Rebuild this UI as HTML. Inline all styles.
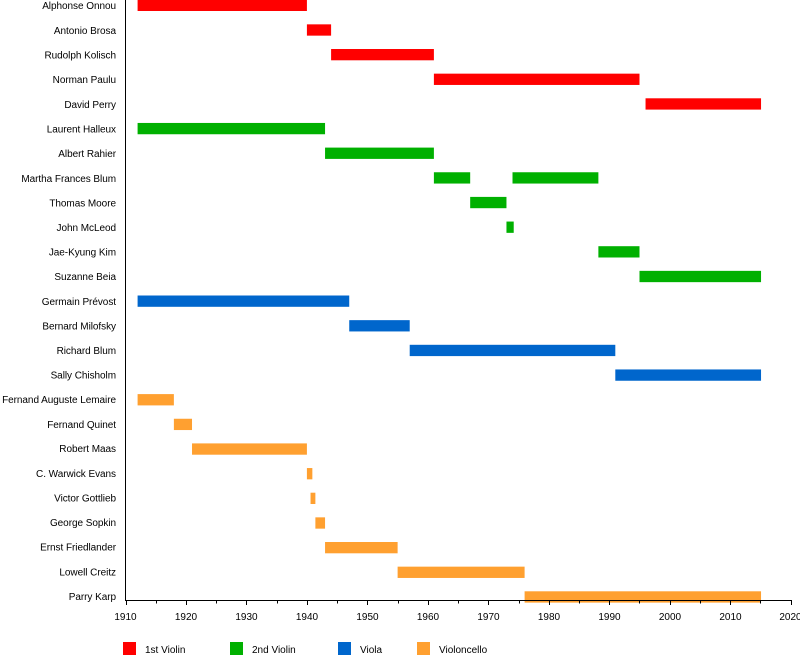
<!DOCTYPE html>
<html><head><meta charset="utf-8"><style>
html,body{margin:0;padding:0;background:#fff;}
svg{display:block;font-family:"Liberation Sans",sans-serif;}
</style></head><body>
<svg id="s" width="800" height="660" xmlns="http://www.w3.org/2000/svg">
<g font-size="10" fill="#000" text-anchor="end" letter-spacing="-0.05">
<text x="116" y="9">Alphonse Onnou</text>
<text x="116" y="34">Antonio Brosa</text>
<text x="116" y="58.5">Rudolph Kolisch</text>
<text x="116" y="83">Norman Paulu</text>
<text x="116" y="108">David Perry</text>
<text x="116" y="132.5">Laurent Halleux</text>
<text x="116" y="157">Albert Rahier</text>
<text x="116" y="182">Martha Frances Blum</text>
<text x="116" y="206.5">Thomas Moore</text>
<text x="116" y="231">John McLeod</text>
<text x="116" y="255.5">Jae-Kyung Kim</text>
<text x="116" y="280">Suzanne Beia</text>
<text x="116" y="305">Germain Prévost</text>
<text x="116" y="329.5">Bernard Milofsky</text>
<text x="116" y="354">Richard Blum</text>
<text x="116" y="378.5">Sally Chisholm</text>
<text x="116" y="403">Fernand Auguste Lemaire</text>
<text x="116" y="428">Fernand Quinet</text>
<text x="116" y="452">Robert Maas</text>
<text x="116" y="477">C. Warwick Evans</text>
<text x="116" y="501.5">Victor Gottlieb</text>
<text x="116" y="526">George Sopkin</text>
<text x="116" y="550.5">Ernst Friedlander</text>
<text x="116" y="575.5">Lowell Creitz</text>
<text x="116" y="600">Parry Karp</text>
</g>
<g id="bars"></g>
<line x1="125.5" y1="0" x2="125.5" y2="601" stroke="#000" stroke-width="1"/>
<line x1="125" y1="600.5" x2="791" y2="600.5" stroke="#000" stroke-width="1"/>
<g id="ticks" stroke="#000" stroke-width="1"></g>
<g font-size="10" text-anchor="middle">
<text x="125.5" y="620">1910</text><text x="186" y="620">1920</text><text x="246.5" y="620">1930</text>
<text x="307" y="620">1940</text><text x="367.5" y="620">1950</text><text x="428" y="620">1960</text>
<text x="488.5" y="620">1970</text><text x="549" y="620">1980</text><text x="609.5" y="620">1990</text>
<text x="670" y="620">2000</text><text x="730.5" y="620">2010</text><text x="790.5" y="620">2020</text>
</g>
<g font-size="10">
<rect x="123" y="642" width="13" height="13" fill="#ff0000"/><text x="145" y="653">1st Violin</text>
<rect x="230" y="642" width="13" height="13" fill="#00b000"/><text x="252" y="653">2nd Violin</text>
<rect x="338" y="642" width="13" height="13" fill="#0066cc"/><text x="360" y="653">Viola</text>
<rect x="417" y="642" width="13" height="13" fill="#ffa030"/><text x="439" y="653">Violoncello</text>
</g>
</svg>
<script>
var R="#ff0000",G="#00b000",B="#0066cc",O="#ffa030";
var d=[[0,1912,1940,R],[1,1940,1944,R],[2,1944,1961,R],[3,1961,1995,R],[4,1996,2015.1,R],
[5,1912,1943,G],[6,1943,1961,G],[7,1961,1967,G],[7,1974,1988.2,G],[8,1967,1973,G],[9,1973,1974.2,G],[10,1988.2,1995,G],[11,1995,2015.1,G],
[12,1912,1947,B],[13,1947,1957,B],[14,1957,1991,B],[15,1991,2015.1,B],
[16,1912,1918,O],[17,1918,1921,O],[18,1921,1940,O],[19,1940,1940.9,O],[20,1940.6,1941.4,O],[21,1941.4,1943,O],[22,1943,1955,O],[23,1955,1976,O],[24,1976,2015.1,O]];
var ns="http://www.w3.org/2000/svg",g=document.getElementById("bars");
function X(y){return 125.5+(y-1910)*6.047;}
d.forEach(function(a){var r=document.createElementNS(ns,"rect");var t=24.65*a[0]-0.3;
r.setAttribute("x",X(a[1]));r.setAttribute("width",X(a[2])-X(a[1]));r.setAttribute("y",t);r.setAttribute("height",11.3);r.setAttribute("fill",a[3]);g.appendChild(r);});
var tk=document.getElementById("ticks");
for(var y=1910;y<=2020;y+=5){var l=document.createElementNS(ns,"line");var x=Math.round(X(y))+0.5;
l.setAttribute("x1",x);l.setAttribute("x2",x);l.setAttribute("y1",600);l.setAttribute("y2",y%10==0?605:603.5);tk.appendChild(l);}
</script>
</body></html>
